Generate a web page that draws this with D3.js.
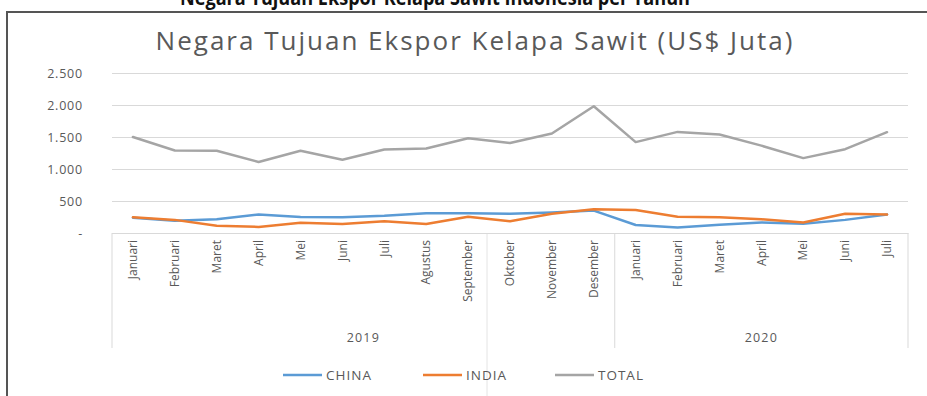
<!DOCTYPE html>
<html>
<head>
<meta charset="utf-8">
<script src="https://cdn.jsdelivr.net/npm/d3@7"></script>
<style>
  body { margin: 0; background: #fff; }
  text { font-family: "Open Sans", "Liberation Sans", sans-serif; }
</style>
</head>
<body>
<script>
var months = ["Januari", "Februari", "Maret", "April", "Mei", "Juni", "Juli", "Agustus", "September", "Oktober", "November", "Desember",
              "Januari", "Februari", "Maret", "April", "Mei", "Juni", "Juli"];
var years = ["2019", "2020"];
var yearCounts = [12, 7];
var china = [240, 190, 215, 290, 250, 245, 270, 310, 310, 300, 320, 350, 125, 85, 130, 165, 145, 205, 290];
var india = [245, 205, 115, 95, 160, 140, 185, 140, 255, 185, 300, 370, 360, 255, 245, 215, 165, 300, 290];
var total = [1500, 1290, 1285, 1110, 1285, 1145, 1305, 1320, 1480, 1405, 1555, 1980, 1420, 1580, 1540, 1365, 1170, 1310, 1575];
var yTicks = [0, 500, 1000, 1500, 2000, 2500];
var seriesNames = ["CHINA", "INDIA", "TOTAL"];
var colors = ["#5b9bd5", "#ed7d31", "#a5a5a5"];

var svg = d3.select("body").append("svg").attr("width", 927).attr("height", 396);

// caption of the page above the chart, cropped at the top edge (as in the source)
svg.append("text")
    .attr("x", 180).attr("y", 5)
    .attr("font-size", 21).attr("font-weight", "bold")
    .attr("textLength", 510).attr("lengthAdjust", "spacingAndGlyphs")
    .attr("fill", "#111")
    .text("Negara Tujuan Ekspor Kelapa Sawit Indonesia per Tahun");

// chart frame
svg.append("rect")
    .attr("x", 7).attr("y", 12).attr("width", 960).attr("height", 420)
    .attr("fill", "#fff").attr("stroke", "#555").attr("stroke-width", 2);

svg.append("text")
    .attr("x", 475).attr("y", 50)
    .attr("text-anchor", "middle")
    .attr("font-size", 26).attr("letter-spacing", 2)
    .attr("fill", "#595959")
    .text("Negara Tujuan Ekspor Kelapa Sawit (US$ Juta)");

var x = d3.scaleBand().domain(d3.range(months.length)).range([112, 908]).padding(0);
var y = d3.scaleLinear().domain([0, 2500]).range([233, 73]);

var loc = d3.formatLocale({ decimal: ",", thousands: ".", grouping: [3], currency: ["", ""] });
var fmt = loc.format(",");

// gridlines + y labels
var yAxis = svg.append("g")
    .attr("transform", "translate(112,0)")
    .call(d3.axisLeft(y).tickValues(yTicks).tickSize(-796).tickPadding(29)
        .tickFormat(function (d) { return d === 0 ? "-  " : fmt(d); }));
yAxis.select(".domain").remove();
yAxis.selectAll("line").attr("stroke", "#d9d9d9");
yAxis.selectAll("text").attr("fill", "#595959").attr("font-size", 12.5).attr("letter-spacing", 0.8);

// category axis
var xAxis = svg.append("g")
    .attr("transform", "translate(0,233)")
    .call(d3.axisBottom(x).tickSize(0).tickFormat(function (d) { return months[d]; }));
xAxis.select(".domain").attr("stroke", "#d9d9d9");
xAxis.selectAll("text")
    .attr("fill", "#595959").attr("font-size", 12)
    .attr("transform", "rotate(-90)")
    .attr("text-anchor", "end")
    .attr("x", -7).attr("y", 0).attr("dy", "0.35em");

// year groups
var start = 0;
var bounds = [x(0)];
years.forEach(function (yr, i) {
    var a = x(start), b = x(start + yearCounts[i] - 1) + x.bandwidth();
    svg.append("text")
        .attr("x", (a + b) / 2).attr("y", 342)
        .attr("text-anchor", "middle")
        .attr("font-size", 12.5).attr("letter-spacing", 1.2).attr("fill", "#595959")
        .text(yr);
    start += yearCounts[i];
    bounds.push(b);
});
svg.selectAll(".sep").data(bounds).enter().append("line")
    .attr("x1", function (d) { return d; }).attr("x2", function (d) { return d; })
    .attr("y1", 233).attr("y2", 348)
    .attr("stroke", "#d9d9d9");

// stray scan line in the source picture
svg.append("line")
    .attr("x1", 487).attr("x2", 487).attr("y1", 234).attr("y2", 396)
    .attr("stroke", "#e4e4e4");

var line = d3.line()
    .x(function (d, i) { return x(i) + x.bandwidth() / 2; })
    .y(function (d) { return y(d); });

[china, india, total].forEach(function (s, i) {
    svg.append("path")
        .datum(s)
        .attr("d", line)
        .attr("fill", "none")
        .attr("stroke", colors[i])
        .attr("stroke-width", 2.5)
        .attr("stroke-linejoin", "round")
        .attr("stroke-linecap", "round");
});

// legend
var legX = [283, 423, 555];
seriesNames.forEach(function (n, i) {
    svg.append("line")
        .attr("x1", legX[i]).attr("x2", legX[i] + 39)
        .attr("y1", 375).attr("y2", 375)
        .attr("stroke", colors[i]).attr("stroke-width", 2.5);
    svg.append("text")
        .attr("x", legX[i] + 43).attr("y", 380)
        .attr("font-size", 13.5).attr("letter-spacing", 1)
        .attr("fill", "#595959")
        .text(n);
});
</script>
</body>
</html>
